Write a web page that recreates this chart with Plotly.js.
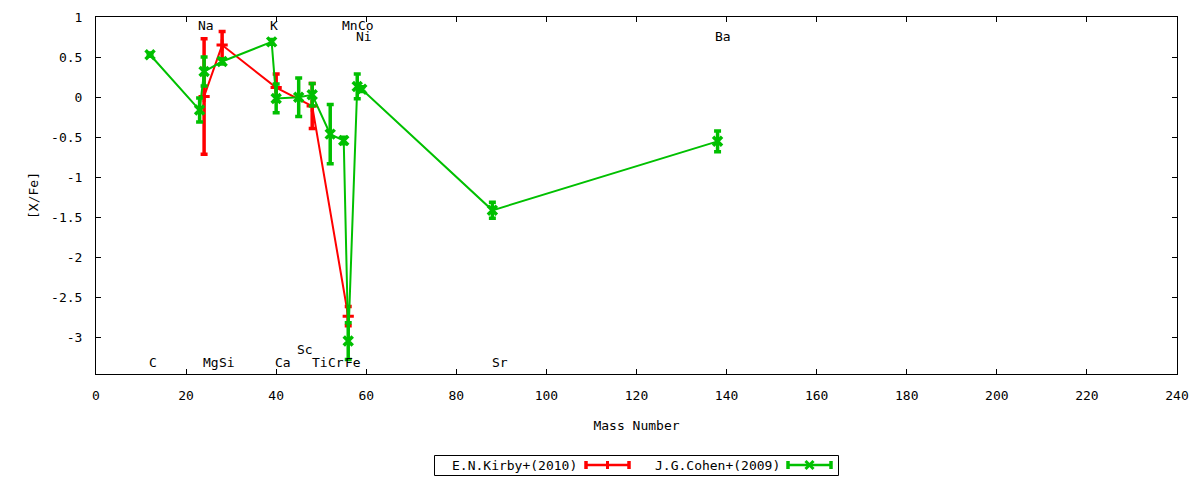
<!DOCTYPE html>
<html>
<head>
<meta charset="utf-8">
<script src="https://cdn.plot.ly/plotly-3.0.1.min.js"></script>
<style>html,body{margin:0;padding:0;background:#fff;}#chart{width:1200px;height:480px;}</style>
</head>
<body>
<div id="chart"></div>
<script>
// Kirby et al. (2010)
const kirbyElements = ["Mg", "Si", "Ca", "Ti", "Fe"];
const kirbyMass = [24, 28, 40, 48, 56];
const kirbyValue = [0.01, 0.65, 0.12, -0.11, -2.73];
const kirbyError = [0.72, 0.17, 0.17, 0.28, 0.12];

// Cohen et al. (2009)
const cohenElements = ["C", "Na", "Mg", "Si", "K", "Ca", "Sc", "Ti", "Cr", "Mn", "Fe", "Ni", "Co", "Sr", "Ba"];
const cohenMass = [12, 23, 24, 28, 39, 40, 45, 48, 52, 55, 56, 58, 59, 88, 138];
const cohenValue = [0.53, -0.16, 0.32, 0.445, 0.69, -0.015, 0.0, 0.03, -0.46, -0.54, -3.04, 0.135, 0.10, -1.41, -0.55];
const cohenError = [0.02, 0.15, 0.18, 0.03, 0.03, 0.18, 0.24, 0.14, 0.37, 0.04, 0.23, 0.155, 0.03, 0.10, 0.13];

// element name labels
const labelNames = ["C", "Na", "Mg", "Si", "K", "Ca", "Sc", "Ti", "Cr", "Mn", "Fe", "Co", "Ni", "Sr", "Ba"];
const labelX = [11.6, 22.5, 23.5, 27.0, 38.5, 39.6, 44.4, 47.8, 51.3, 54.4, 55.0, 57.9, 57.6, 87.6, 137.3];
const labelY = [-3.31, 0.89, -3.31, -3.31, 0.89, -3.31, -3.14, -3.31, -3.31, 0.89, -3.31, 0.89, 0.76, -3.31, 0.76];

// axis ticks
const xTicks = [0, 20, 40, 60, 80, 100, 120, 140, 160, 180, 200, 220, 240];
const yTickVals = [1, 0.5, 0, -0.5, -1, -1.5, -2, -2.5, -3];
const yTickText = ["1", "0.5", "0", "-0.5", "-1", "-1.5", "-2", "-2.5", "-3"];

const seriesNames = ["E.N.Kirby+(2010)", "J.G.Cohen+(2009)"];
const RED = "#ff0000", GREEN = "#00c000";
const FONT = "DejaVu Sans Mono, monospace";

const traces = [
  {
    x: kirbyMass, y: kirbyValue, name: seriesNames[0], type: "scatter", mode: "lines+markers",
    line: {color: RED, width: 2},
    marker: {symbol: "cross-thin", size: 8, color: RED, line: {color: RED, width: 3}},
    error_y: {type: "data", array: kirbyError, visible: true, color: RED, thickness: 3.5, width: 3.5},
    showlegend: false, cliponaxis: true
  },
  {
    x: cohenMass, y: cohenValue, name: seriesNames[1], type: "scatter", mode: "lines+markers",
    line: {color: GREEN, width: 2},
    marker: {symbol: "x-thin", size: 9, color: GREEN, line: {color: GREEN, width: 3.5}},
    error_y: {type: "data", array: cohenError, visible: true, color: GREEN, thickness: 3.5, width: 3.5},
    showlegend: false, cliponaxis: true
  }
];

// plot area geometry (px) for the hand-made gnuplot-style legend
const W = 1200, H = 480, ML = 96, MR = 23, MT = 17, MB = 106;
const PW = W - ML - MR, PH = H - MT - MB;
const px = v => (v - ML) / PW;
const py = v => (H - MB - v) / PH;

const annotations = labelNames.map((t, i) => ({
  x: labelX[i], y: labelY[i], xref: "x", yref: "y", text: t, showarrow: false,
  xanchor: "left", yanchor: "middle", borderpad: 0,
  font: {family: FONT, size: 13, color: "#000"}
}));

const legendY = 465;
annotations.push({x: px(578), y: py(legendY), xref: "paper", yref: "paper", text: seriesNames[0],
  showarrow: false, xanchor: "right", yanchor: "middle", borderpad: 0, font: {family: FONT, size: 13, color: "#000"}});
annotations.push({x: px(781), y: py(legendY), xref: "paper", yref: "paper", text: seriesNames[1],
  showarrow: false, xanchor: "right", yanchor: "middle", borderpad: 0, font: {family: FONT, size: 13, color: "#000"}});

const shapes = [
  {type: "rect", xref: "paper", yref: "paper", x0: px(434.5), x1: px(838.5), y0: py(475.5), y1: py(455.5),
   line: {color: "#000", width: 1}, fillcolor: "rgba(0,0,0,0)"}
];
function sample(x0, x1, color, isX) {
  const c = (x0 + x1) / 2;
  const L = {color: color, width: 3.5};
  shapes.push({type: "line", xref: "paper", yref: "paper", x0: px(x0), x1: px(x1), y0: py(legendY), y1: py(legendY), line: {color: color, width: 2.5}});
  shapes.push({type: "line", xref: "paper", yref: "paper", x0: px(x0), x1: px(x0), y0: py(legendY - 4), y1: py(legendY + 4), line: L});
  shapes.push({type: "line", xref: "paper", yref: "paper", x0: px(x1), x1: px(x1), y0: py(legendY - 4), y1: py(legendY + 4), line: L});
  if (isX) {
    shapes.push({type: "line", xref: "paper", yref: "paper", x0: px(c - 4), x1: px(c + 4), y0: py(legendY - 4), y1: py(legendY + 4), line: {color: color, width: 3}});
    shapes.push({type: "line", xref: "paper", yref: "paper", x0: px(c - 4), x1: px(c + 4), y0: py(legendY + 4), y1: py(legendY - 4), line: {color: color, width: 3}});
  } else {
    shapes.push({type: "line", xref: "paper", yref: "paper", x0: px(c), x1: px(c), y0: py(legendY - 4), y1: py(legendY + 4), line: {color: color, width: 3}});
  }
}
sample(586, 629, RED, false);
sample(788, 831, GREEN, true);

const layout = {
  width: W, height: H,
  margin: {l: ML, r: MR, t: MT, b: MB, pad: 0},
  paper_bgcolor: "#fff", plot_bgcolor: "#fff",
  font: {family: FONT, size: 13, color: "#000"},
  showlegend: false,
  xaxis: {
    range: [0, 240], tickvals: xTicks, ticktext: xTicks.map(String),
    showgrid: false, zeroline: false, showline: true, linecolor: "#000", linewidth: 1, mirror: "ticks",
    ticks: "inside", ticklen: 5, tickcolor: "#000", ticklabelstandoff: 9,
    tickfont: {family: FONT, size: 13, color: "#000"},
    title: {text: "Mass Number", font: {family: FONT, size: 13, color: "#000"}, standoff: 19}
  },
  yaxis: {
    range: [-3.45, 1], tickvals: yTickVals, ticktext: yTickText,
    showgrid: false, zeroline: false, showline: true, linecolor: "#000", linewidth: 1, mirror: "ticks",
    ticks: "inside", ticklen: 5, tickcolor: "#000", ticklabelstandoff: 10,
    tickfont: {family: FONT, size: 13, color: "#000"},
    title: {text: "[X/Fe]", font: {family: FONT, size: 13, color: "#000"}, standoff: 9}
  },
  annotations: annotations,
  shapes: shapes
};

Plotly.newPlot("chart", traces, layout, {displayModeBar: false, staticPlot: true});
</script>
</body>
</html>
